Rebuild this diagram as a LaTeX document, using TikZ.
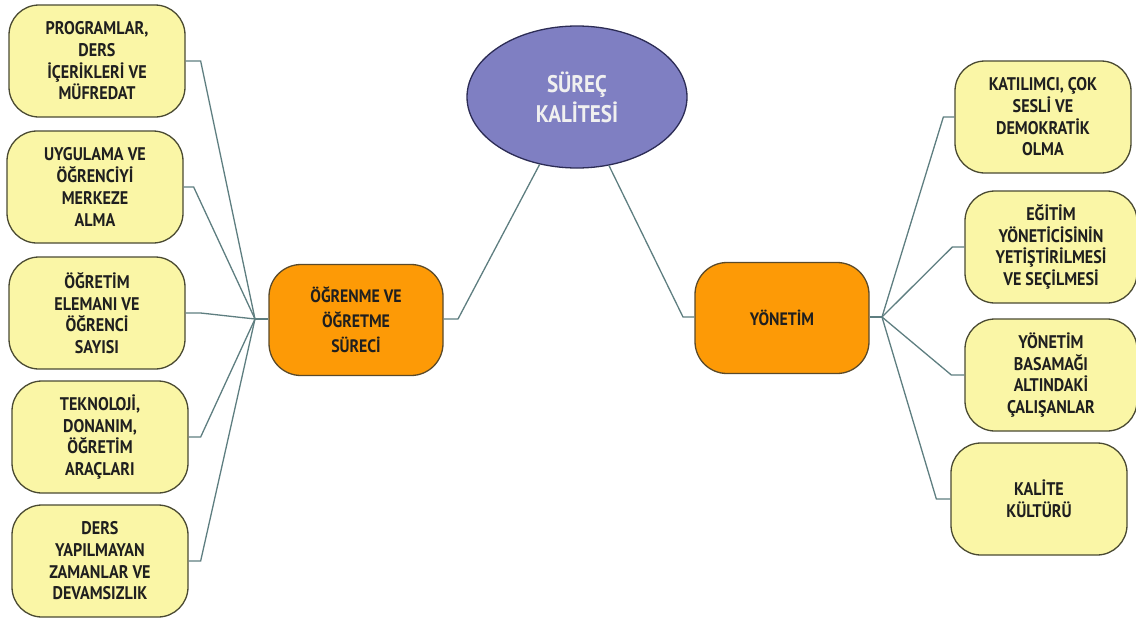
\documentclass[tikz,border=0pt]{standalone}
\usepackage{fontspec}
\setmainfont{PT Sans}
\newfontfamily\narrowsans{PT Sans}[FakeStretch=0.88]
\usetikzlibrary{shapes.geometric}
\definecolor{leafFill}{HTML}{FAF6A6}
\definecolor{leafLine}{HTML}{4A4A32}
\definecolor{hubFill}{HTML}{FD9A06}
\definecolor{hubLine}{HTML}{5A4A2A}
\definecolor{rootFill}{HTML}{7F7FC2}
\definecolor{rootLine}{HTML}{2C2C55}
\definecolor{wire}{HTML}{5E7E80}
\begin{document}
\begin{tikzpicture}[x=1pt,y=-1pt,
  leaf/.style={draw=leafLine, line width=1.3pt, fill=leafFill, rounded corners=30pt,
    minimum width=176pt, minimum height=112pt, inner sep=0pt, align=center,
    font=\narrowsans\bfseries\fontsize{18.3}{21.7}\selectfont, text=black!88},
  branch/.style={draw=hubLine, line width=1.3pt, fill=hubFill, rounded corners=32pt,
    minimum width=174pt, minimum height=111pt, inner sep=0pt, align=center,
    font=\narrowsans\bfseries\fontsize{18}{25}\selectfont, text=black!88},
  root/.style={ellipse, draw=rootLine, line width=1.3pt, fill=rootFill,
    minimum width=220pt, minimum height=142pt, inner sep=0pt, align=center,
    font=\narrowsans\bfseries\fontsize{24}{30}\selectfont, text=white!94!black},
  wire/.style={draw=wire, line width=1.3pt}]
\useasboundingbox (0,0) rectangle (1136,619);

% central topic
\node[root] (root) at (577,97) {SÜREÇ\\KALİTESİ};

% main branches
\node[branch] (learn) at (356,320) {ÖĞRENME VE\\ÖĞRETME\\SÜRECİ};
\node[branch] (manage) at (782,318) {YÖNETİM};

% learning and teaching leaves
\node[leaf] (l1) at (97,61) {PROGRAMLAR,\\DERS\\İÇERİKLERİ VE\\MÜFREDAT};
\node[leaf] (l2) at (95,187) {UYGULAMA VE\\ÖĞRENCİYİ\\MERKEZE\\ALMA};
\node[leaf] (l3) at (97,313) {ÖĞRETİM\\ELEMANI VE\\ÖĞRENCİ\\SAYISI};
\node[leaf] (l4) at (100,437) {TEKNOLOJİ,\\DONANIM,\\ÖĞRETİM\\ARAÇLARI};
\node[leaf] (l5) at (100,561) {DERS\\YAPILMAYAN\\ZAMANLAR VE\\DEVAMSIZLIK};

% management leaves
\node[leaf] (r1) at (1043,117) {KATILIMCI, ÇOK\\SESLİ VE\\DEMOKRATİK\\OLMA};
\node[leaf, minimum width=172pt] (r2) at (1051,247) {EĞİTİM\\YÖNETİCİSİNİN\\YETİŞTİRİLMESİ\\VE SEÇİLMESİ};
\node[leaf, minimum width=172pt] (r3) at (1051,375) {YÖNETİM\\BASAMAĞI\\ALTINDAKİ\\ÇALIŞANLAR};
\node[leaf] (r4) at (1039,499) {KALİTE\\KÜLTÜRÜ};

% junction points of the connector fans
\coordinate (hubL) at (255,319);
\coordinate (hubR) at (882,317);
\coordinate (kneeM) at (683,317);
\coordinate (kneeL) at (458,319);

% connectors
\draw[wire] (root.-119) -- (kneeL) -- (learn.east |- kneeL);
\draw[wire] (root.-65) -- (kneeM) -- (manage.west |- kneeM);

\draw[wire] (learn.west |- hubL) -- (hubL);
\draw[wire] (l1.east) -- ++(15,0) -- (hubL);
\draw[wire] (l2.east) -- ++(10,0) -- (hubL);
\draw[wire] (l3.east) -- ++(15,0) -- (hubL);
\draw[wire] (l4.east) -- ++(12,0) -- (hubL);
\draw[wire] (l5.east) -- ++(12,0) -- (hubL);

\draw[wire] (manage.east |- hubR) -- (hubR);
\draw[wire] (r1.west) -- ++(-11,0) -- (hubR);
\draw[wire] (r2.west) -- ++(-12,0) -- (hubR);
\draw[wire] (r3.west) -- ++(-13,0) -- (hubR);
\draw[wire] (r4.west) -- ++(-14,0) -- (hubR);
\end{tikzpicture}
\end{document}
